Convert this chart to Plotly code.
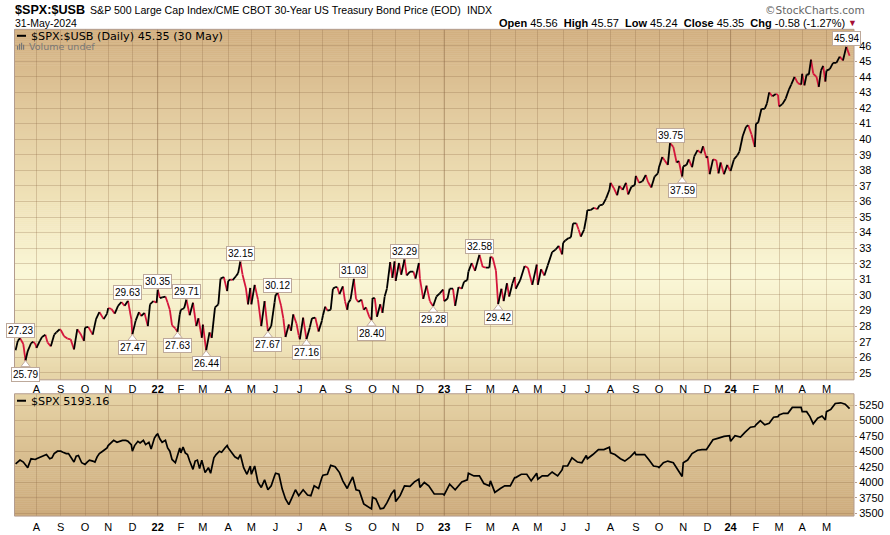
import numpy as np
import pandas as pd
import plotly.graph_objects as go

# --- ratio values, one inner list per month ---
ratio_2021 = [
    [26.45,27.05,27.23,26.85,25.79,26.4,26.9,27.0,26.85],
    [26.6,27.05,27.3,27.45,26.95,26.7,27.45,27.6,27.8],
    [27.75,27.35,27.2,27.15,26.5,27.8,27.5,27.05],
    [27.9,27.95,27.45,28.45,28.9,28.45,28.8],
    [29.15,29.1,28.8,29.3,29.55,29.3,29.63,28.45],
    [27.47,28.35,28.9,28.65,28.85,28.0,29.4,29.6,29.5],
]
ratio_2022 = [
    [30.35,29.8,29.85,29.9,29.5,29.05,28.05,27.85,27.63,28.75],
    [29.05,29.15,29.71,28.7,29.5,28.0,28.5,27.25],
    [28.1,26.44,27.6,27.25,29.2,29.4,31.05,31.15,30.25],
    [30.9,31.0,30.95,31.2,31.4,32.15,31.3,30.45,29.4,30.45],
    [29.4,30.65,29.7,28.0,29.6,27.67,28.0,29.5],
    [30.0,30.12,29.3,28.5,27.3,28.1,27.7,28.75,28.15,27.4],
    [27.15,28.55,27.16,27.9,28.5,28.55,27.65,28.35],
    [28.7,29.25,29.0,29.05,30.4,30.5,30.5,30.05,30.55,29.6,29.05],
    [29.5,29.7,31.03,29.75,29.55,29.7,29.05,29.2,28.6,28.40],
    [29.8,29.8,28.6,29.4,28.85,29.9,30.4,32.1,31.1,32.15],
    [30.9,32.05,31.3,32.29,31.25,31.5,31.5,31.05,32.05],
    [31.05,29.75,30.6,29.6,29.28,29.9,30.1,30.35],
]
ratio_2023 = [
    [29.6,29.75,30.4,30.4,29.3,30.5,30.4,30.85,30.95],
    [31.5,32.05,31.55,32.58,31.8,31.75,31.75],
    [32.45,32.4,31.55,29.42,30.4,29.6,30.75,29.9,30.75,31.15],
    [30.4,30.95,31.85,31.75,30.65,31.95],
    [30.65,31.65,31.25,31.9,32.75,32.9,33.15,32.6],
    [33.35,33.5,33.65,33.7,34.6,34.6,34.2,33.75,34.2,34.95],
    [35.45,35.45,35.6,35.5,35.75,35.8,36.2,36.75],
    [37.2,36.85,36.4,37.0,36.75,37.2,36.45,36.95,37.05],
    [37.65,37.2,37.3,37.7,37.25,36.9,37.6,37.8],
    [38.2,38.85,38.65,38.35,39.75,39.5,38.5,38.6,37.59],
    [38.25,38.35,38.7,38.2,38.9,39.3,39.1,39.55,38.8],
    [38.9,37.75,38.7,38.65,37.8,38.5,37.75,38.35,38.05],
]
ratio_2024 = [
    [37.95,38.7,38.95,39.2,40.2,40.8,40.9,40.3,39.5],
    [41.0,41.05,41.95,41.95,42.3,43.0,42.75,42.9,42.85],
    [42.1,42.25,42.6,43.2,43.5,44.0,43.6,43.5],
    [44.2,43.45,44.15,44.15,45.1,44.2,44.0,43.35,44.4,44.7,43.7],
    [44.4,44.5,44.9,44.9,45.3,45.05,45.94,45.35],
]

# --- S&P 500 values, one inner list per month ---
spx_2021 = [
    [4300,4360,4328,4237,4381,4370],
    [4381,4397,4413,4434,4450,4381,4397,4466,4504,4504],
    [4504,4488,4466,4466,4413,4328,4424,4434,4317,4290],
    [4290,4328,4360,4344,4328,4413,4466,4504,4530,4557],
    [4595,4637,4680,4648,4664,4680,4680,4664,4611],
    [4504,4595,4664,4637,4680,4611,4648,4541,4717,4771],
]
spx_2022 = [
    [4782,4701,4648,4680,4557,4504,4370,4317,4450,4557],
    [4477,4573,4477,4450,4344,4210,4344,4360,4221,4360],
    [4290,4157,4237,4146,4397,4450,4504,4488,4557,4595],
    [4557,4488,4413,4381,4450,4237,4130,4264],
    [4130,4264,3997,3917,4039,3879,3943,4103],
    [4146,4130,3890,3730,3639,3756,3879,3783],
    [3810,3879,3794,3783,3943,3900,4076],
    [4114,4130,4274,4253,4157,4023,3900],
    [3943,4087,3879,3863,3650,3596,3569],
    [3756,3730,3569,3580,3666,3810,3879],
    [3687,3783,3943,3933,4007,4050],
    [3917,3997,3943,3810,3810,3810],
]
spx_2023 = [
    [3794,3970,3879,4007,4039],
    [4146,4103,4103,3981,3943],
    [4023,3836,3900,3943,3943,4076],
    [4076,4130,4130,4023,4146],
    [4050,4103,4103,4167,4103,4200],
    [4264,4264,4397,4328,4317,4434],
    [4381,4450,4530,4530,4568],
    [4477,4450,4381,4344,4413,4488],
    [4450,4450,4450,4360,4264,4253],
    [4237,4317,4344,4317,4200,4093],
    [4317,4360,4466,4520,4530,4530],
    [4557,4690,4717,4744,4755],
]
spx_2024 = [
    [4664,4755,4733,4808,4893,4904],
    [4931,5000,4931,4958,5054,5065],
    [5091,5118,5118,5214,5214,5214],
    [5145,5145,5065,4947,5038,5075,5011],
    [5145,5182,5278,5289,5267,5193],
]

peak_labels = [27.23,29.63,30.35,29.71,32.15,30.12,31.03,32.29,32.58,39.75,45.94]
trough_labels = [25.79,27.47,27.63,26.44,27.67,27.16,28.40,29.28,29.42,37.59]

month_letters = ["A","S","O","N","D","<b>22</b>","F","M","A","M","J","J","A","S","O","N","D",
                 "<b>23</b>","F","M","A","M","J","J","A","S","O","N","D","<b>24</b>","F","M","A","M"]
ratio_ticks = list(range(25, 47))
spx_ticks = [3500,3750,4000,4250,4500,4750,5000,5250]

# --- layout constants (pixels of the 890x535 page) ---
W, H = 890, 535
L, R = 14.5, 854.0
T1, B1 = 29.5, 382.0
T2, B2 = 396.0, 519.0
px = lambda x: x / W
py = lambda y: 1 - y / H


def expand(years, first_month):
    """Turn per-month lists into flat dates and values."""
    dates, values = [], []
    month = pd.Timestamp(first_month)
    for year in years:
        for vals in year:
            days = pd.bdate_range(month, month + pd.offsets.MonthEnd(0))
            if month == pd.Timestamp("2021-07-01"):
                days = days[days >= "2021-07-06"]
            if month == pd.Timestamp("2024-05-01"):
                days = days[days <= "2024-05-30"]
            idx = np.linspace(0, len(days) - 1, len(vals)).round().astype(int)
            dates.extend(days[idx])
            values.extend(vals)
            month = month + pd.offsets.MonthBegin(1)
    return dates, values


ratio_dates, ratio_vals = expand([ratio_2021, ratio_2022, ratio_2023, ratio_2024], "2021-07-01")
spx_dates, spx_vals = expand([spx_2021, spx_2022, spx_2023, spx_2024], "2021-07-01")

up_x, up_y, dn_x, dn_y = [], [], [], []
for i in range(1, len(ratio_vals)):
    tx, ty = (up_x, up_y) if ratio_vals[i] >= ratio_vals[i - 1] else (dn_x, dn_y)
    tx += [ratio_dates[i - 1], ratio_dates[i], None]
    ty += [ratio_vals[i - 1], ratio_vals[i], None]

tick_dates = [pd.bdate_range(m, periods=1)[0]
              for m in pd.date_range("2021-08-01", "2024-05-01", freq="MS")]
year_dates = [tick_dates[i] for i, t in enumerate(month_letters) if t.startswith("<b>")]

fig = go.Figure()
fig.add_trace(go.Scatter(x=dn_x, y=dn_y, mode="lines", line=dict(color="#d4163c", width=1.8),
                         xaxis="x", yaxis="y", connectgaps=False, hoverinfo="skip"))
fig.add_trace(go.Scatter(x=up_x, y=up_y, mode="lines", line=dict(color="#000000", width=1.8),
                         xaxis="x", yaxis="y", connectgaps=False, hoverinfo="skip"))
fig.add_trace(go.Scatter(x=spx_dates, y=spx_vals, mode="lines", line=dict(color="#000000", width=1.7),
                         xaxis="x2", yaxis="y2", hoverinfo="skip"))

POINTER = 0.26
fig.add_trace(go.Scatter(
    x=[ratio_dates[ratio_vals.index(v)] for v in peak_labels],
    y=[v + POINTER for v in peak_labels], mode="markers",
    marker=dict(symbol="triangle-down", size=8, color="white", line=dict(color="#c3ad9f", width=1)),
    xaxis="x", yaxis="y", hoverinfo="skip"))
fig.add_trace(go.Scatter(
    x=[ratio_dates[ratio_vals.index(v)] for v in trough_labels],
    y=[v - POINTER for v in trough_labels], mode="markers",
    marker=dict(symbol="triangle-up", size=8, color="white", line=dict(color="#c3ad9f", width=1)),
    xaxis="x", yaxis="y", hoverinfo="skip"))

annotations = []
for vals, shift in ((peak_labels, 8), (trough_labels, -13.5)):
    for v in vals:
        annotations.append(dict(
            x=ratio_dates[ratio_vals.index(v)], y=v, xref="x", yref="y", text=f"{v:.2f}",
            showarrow=False, yshift=shift, bgcolor="white", bordercolor="#bda99b", borderwidth=1,
            borderpad=1, font=dict(family="Liberation Sans", size=10, color="#000")))


def label(x, y, text, anchor="left", size=11, family="Liberation Sans", color="#000"):
    annotations.append(dict(x=px(x), y=py(y), xref="paper", yref="paper", text=text, showarrow=False,
                            xanchor=anchor, yanchor="middle", borderpad=0,
                            font=dict(family=family, size=size, color=color)))


label(13.5, 10.5, "<b>$SPX:$USB</b>", size=12.6)
label(89, 10.5, "S&amp;P 500 Large Cap Index/CME CBOT 30-Year US Treasury Bond Price (EOD)", size=10.6)
label(466, 10.5, "INDX", size=10.5)
label(13.5, 23.5, "31-May-2024", size=10.5)
label(764, 10.5, "©StockCharts.com", size=10.5, family="DejaVu Sans", color="#666666")
label(846, 23.5, "<b>Open</b> 45.56  <b>High</b> 45.57  <b>Low</b> 45.24  <b>Close</b> 45.35  "
                 "<b>Chg</b> -0.58 (-1.27%)", anchor="right", size=11)
label(846.5, 23.5, "▼", size=9, color="#a50f35")
label(29.5, 37, "$SPX:$USB (Daily) 45.35 (30 May)", size=11.2, family="DejaVu Sans")
label(28, 46.5, "Volume undef", size=9.5, family="DejaVu Sans", color="#777777")
label(29.5, 404, "$SPX 5193.16", size=11.2, family="DejaVu Sans")

# gradient panel backgrounds: colour stops against page y
stops_y = [29.5, 110, 200, 275, 340, 382, 396, 519]
stops_rgb = np.array([
    [210,175,128],[226,202,158],[240,226,184],[251,248,216],[243,233,192],[229,210,165],
    [230,211,166],[205,171,124]], dtype=float)


def band_color(y):
    return "rgb(%d,%d,%d)" % tuple(np.interp(y, stops_y, stops_rgb[:, c]) for c in range(3))


border = "#b39c8e"
shapes = []
for top, bot in ((T1, B1), (T2, B2)):
    for y0 in np.arange(top, bot, 2.0):
        y1 = min(y0 + 2.5, bot)
        shapes.append(dict(type="rect", xref="paper", yref="paper", x0=px(L), x1=px(R),
                           y0=py(y0), y1=py(y1), fillcolor=band_color(y0 + 1), line=dict(width=0),
                           layer="below"))
    # panel frame
    shapes.append(dict(type="rect", xref="paper", yref="paper", x0=px(L), x1=px(R), y0=py(top), y1=py(bot),
                       line=dict(color=border, width=1), fillcolor="rgba(0,0,0,0)"))
for d in year_dates:
    for ax in ("y domain", "y2 domain"):
        shapes.append(dict(type="line", xref="x", yref=ax, x0=d, x1=d, y0=0, y1=1,
                           line=dict(color="rgba(130,95,60,0.35)", width=1), layer="below"))
# legend dashes and the little volume icon
shapes.append(dict(type="line", xref="paper", yref="paper", x0=px(17), x1=px(26), y0=py(36), y1=py(36),
                   line=dict(color="#000", width=2)))
shapes.append(dict(type="line", xref="paper", yref="paper", x0=px(17), x1=px(26), y0=py(403), y1=py(403),
                   line=dict(color="#000", width=2)))
for x0, top in ((17, 46), (19, 44), (21, 43), (23, 45)):
    shapes.append(dict(type="rect", xref="paper", yref="paper", x0=px(x0), x1=px(x0 + 1.2),
                       y0=py(50), y1=py(top), fillcolor="#777777", line=dict(width=0)))

x_range = ["2021-07-05", "2024-06-05"]
breaks = [dict(bounds=["sat", "mon"])]
grid = "rgba(140,105,70,0.28)"
common_x = dict(type="date", range=x_range, rangebreaks=breaks, tickmode="array",
                tickvals=tick_dates, ticktext=month_letters, tickangle=0, showgrid=True, gridcolor=grid,
                gridwidth=1, ticks="", showline=False, zeroline=False,
                tickfont=dict(family="Liberation Sans", size=11, color="#000"))
common_y = dict(side="right", showgrid=True, gridcolor=grid, gridwidth=1, ticks="outside", ticklen=2,
                tickcolor=border, tickwidth=1, showline=False, zeroline=False, tickmode="array",
                tickfont=dict(family="Liberation Sans", size=11, color="#000"))

fig.update_layout(
    width=W, height=H, margin=dict(l=0, r=0, t=0, b=0), paper_bgcolor="white", plot_bgcolor="rgba(0,0,0,0)",
    showlegend=False, annotations=annotations, shapes=shapes,
    xaxis=dict(domain=[px(L), px(R)], anchor="free", position=py(B1 + 1.5), **common_x),
    xaxis2=dict(domain=[px(L), px(R)], anchor="free", position=py(B2 + 2.5), **common_x),
    yaxis=dict(domain=[py(B1), py(T1)], anchor="x", range=[24.55, 47.05], tickvals=ratio_ticks,
               ticktext=[str(t) for t in ratio_ticks], **common_y),
    yaxis2=dict(domain=[py(B2), py(T2)], anchor="x2", range=[3452, 5435], tickvals=spx_ticks,
                ticktext=[str(t) for t in spx_ticks], **common_y),
)

fig.write_html("out.html", config={"displayModeBar": False},
               post_script="document.body.style.margin='0';document.body.style.overflow='hidden';")
